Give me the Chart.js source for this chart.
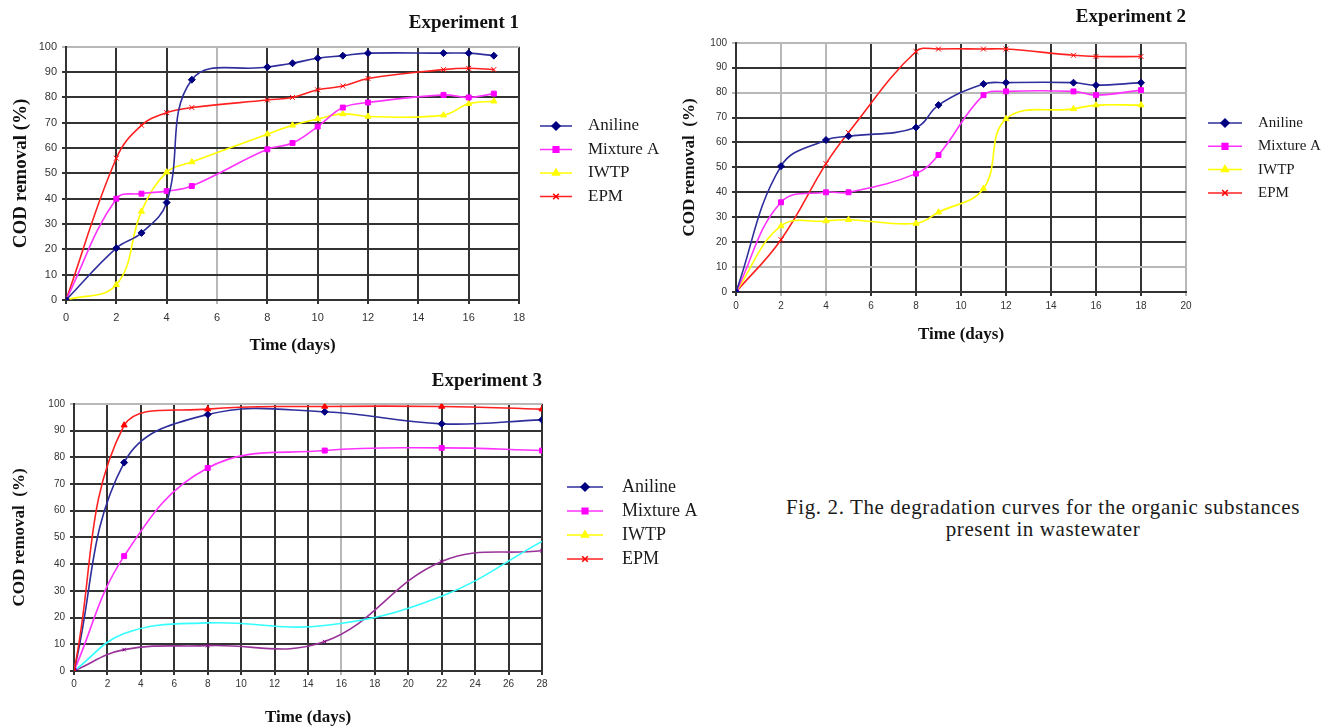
<!DOCTYPE html>
<html>
<head>
<meta charset="utf-8">
<title>Fig. 2</title>
<script src="https://cdn.jsdelivr.net/npm/chart.js@4.4.1/dist/chart.umd.min.js"></script>
<style>
  body { margin: 0; background: #fff; }
  #page { position: relative; width: 1335px; height: 728px; overflow: hidden; }
  canvas { position: absolute; }
  #caption {
    position: absolute; left: 740px; top: 496px; width: 606px;
    text-align: center; font: 21px 'Liberation Serif', serif; letter-spacing: 0.6px;
    line-height: 22px; color: #1a1a1a;
  }
</style>
</head>
<body>
<div id="page">
  <canvas id="c1" width="660" height="365" style="left:0;top:0"></canvas>
  <canvas id="c2" width="675" height="350" style="left:660px;top:0"></canvas>
  <canvas id="c3" width="720" height="363" style="left:0;top:365px"></canvas>
  <div id="caption">Fig. 2. The degradation curves for the organic substances<br>present in wastewater</div>
</div>
<script>
// legend names shared by the three panels
const seriesNames = ['Aniline', 'Mixture A', 'IWTP', 'EPM'];

// Experiment 1
const days1 = [0, 2, 3, 4, 5, 8, 9, 10, 11, 12, 15, 16, 17];
const aniline1 = [0, 20.5, 26.5, 38.5, 87, 92, 93.5, 95.5, 96.5, 97.5, 97.5, 97.5, 96.5];
const mixtureA1 = [0, 40, 42, 43, 45, 59.5, 62, 68.5, 76, 78, 81, 80, 81.5];
const iwtp1 = [0, 6, 35, 50.5, 54.5, 65.5, 69, 71.5, 73.5, 72.5, 73, 77.5, 78.5];
const epm1 = [0, 56, 69, 74, 76, 79, 80, 83, 84.5, 87.5, 91, 91.5, 91];

// Experiment 2
const days2 = [0, 2, 4, 5, 8, 9, 11, 12, 15, 16, 18];
const aniline2 = [0, 50.5, 61, 62.5, 66, 75, 83.5, 84, 84, 83, 84];
const mixtureA2 = [0, 36, 40, 40, 47.5, 55, 79, 80.5, 80.5, 79, 81];
const iwtp2 = [0, 26.5, 28.5, 29, 27.5, 32, 41.5, 69.5, 73.5, 75, 75];
const epm2 = [0, 21, 51.5, 64, 96.5, 97.5, 97.5, 97.5, 95, 94.5, 94.5];

// Experiment 3 (two extra unlabelled curves)
const days3 = [0, 3, 8, 15, 22, 28];
const aniline3 = [0, 78, 96, 97, 92.5, 94];
const mixtureA3 = [0, 43, 76, 82.5, 83.5, 82.5];
const epm3 = [0, 92, 98, 99, 99, 98];
const cyan3 = [0, 14, 18, 17, 28, 48.5];
const purple3 = [0, 8, 9.5, 11, 41, 45];

const yTicks = [0, 10, 20, 30, 40, 50, 60, 70, 80, 90, 100];

// styles
const lineColors = ['#2e2e9c', '#ff33ff', '#ffff00', '#ff2020'];
const markColors = ['#000080', '#ff00ff', '#ffff00', '#ff0000'];
const markers = ['rectRot', 'rect', 'triangle', 'crossRot'];
const SERIF = "'Liberation Serif', 'Times New Roman', serif";
const SANS = "'Liberation Sans', Arial, sans-serif";

function series(days, values, i, extra) {
  return Object.assign({
    label: seriesNames[i],
    data: days.map((d, k) => ({ x: d, y: values[k] })),
    borderColor: lineColors[i],
    backgroundColor: markColors[i],
    pointBackgroundColor: markColors[i],
    pointBorderColor: markColors[i],
    pointStyle: markers[i],
    pointRadius: 3.5,
    pointBorderWidth: 1,
    borderWidth: 1.6,
    tension: 0.4
  }, extra || {});
}

// line + marker legend, Excel style
const lineLegend = {
  id: 'lineLegend',
  afterDraw(chart, args, opts) {
    if (!opts.items) return;
    const ctx = chart.ctx;
    ctx.save();
    opts.items.forEach((it, i) => {
      const y = opts.y + i * opts.dy;
      ctx.strokeStyle = lineColors[i];
      ctx.lineWidth = 1.5;
      ctx.beginPath();
      ctx.moveTo(opts.x, y);
      ctx.lineTo(opts.x + opts.len, y);
      ctx.stroke();
      ctx.fillStyle = markColors[i];
      ctx.strokeStyle = markColors[i];
      Chart.helpers.drawPoint(ctx, { pointStyle: markers[i], radius: 4, borderWidth: 1, rotation: 0 },
        opts.x + opts.len / 2, y);
      ctx.fillStyle = '#1a1a1a';
      ctx.font = opts.font;
      ctx.textBaseline = 'middle';
      ctx.textAlign = 'left';
      ctx.fillText(it, opts.textX, y);
    });
    ctx.restore();
  }
};
Chart.register(lineLegend);

function gridColor(light) {
  return c => (c.tick && light.indexOf(c.tick.value) >= 0) ? '#b8b8b8' : '#333';
}

function makeOptions(cfg) {
  return {
    responsive: false,
    animation: false,
    layout: { padding: { left: 0, top: 0, right: cfg.padRight, bottom: 0 } },
    plugins: {
      legend: { display: false },
      tooltip: { enabled: false },
      title: {
        display: true, text: cfg.title, align: 'end', color: '#111',
        font: { family: SERIF, size: 19, weight: 'bold' },
        padding: { top: cfg.titleTop, bottom: cfg.titleBottom }
      },
      lineLegend: cfg.legend
    },
    scales: {
      x: {
        type: 'linear', min: 0, max: cfg.xMax,
        ticks: { stepSize: 2, autoSkip: false, maxRotation: 0, padding: cfg.xTickPad,
          color: '#333', font: { family: SANS, size: cfg.tickSize } },
        grid: { color: gridColor(cfg.lightX), lineWidth: 2, tickLength: 4 },
        border: { color: '#333', width: 2 },
        title: { display: true, text: 'Time (days)', color: '#111',
          font: { family: SERIF, size: 17, weight: 'bold' }, padding: { top: 0, bottom: cfg.xTitlePad } },
        afterFit: s => { s.height = cfg.xHeight; s.paddingLeft = 0; s.paddingRight = 0; }
      },
      y: {
        min: 0, max: 100,
        afterBuildTicks: s => { s.ticks = yTicks.map(v => ({ value: v })); },
        ticks: { padding: 5, color: '#333', font: { family: SANS, size: cfg.tickSize } },
        grid: { color: gridColor(cfg.lightY), lineWidth: 2, tickLength: 4 },
        border: { color: '#333', width: 2 },
        title: { display: true, text: cfg.yTitle, color: '#111',
          font: { family: SERIF, size: cfg.yTitleSize, weight: 'bold' }, padding: { top: cfg.yTitlePad, bottom: 0 } },
        afterFit: s => { s.width = cfg.yWidth; s.paddingTop = 0; s.paddingBottom = 0; }
      }
    }
  };
}

// eslint-disable-next-line no-unused-vars
const chart1 = new Chart(document.getElementById('c1'), {
  type: 'line',
  data: {
    datasets: [
      series(days1, aniline1, 0),
      series(days1, mixtureA1, 1),
      series(days1, iwtp1, 2),
      series(days1, epm1, 3)
    ]
  },
  options: makeOptions({
    title: 'Experiment 1', padRight: 141, titleTop: 12, titleBottom: 12,
    xMax: 18, xHeight: 65, xTickPad: 7, xTitlePad: 9, tickSize: 11,
    yWidth: 66, yTitle: 'COD removal (%)', yTitleSize: 19, yTitlePad: 10,
    lightX: [6], lightY: [100],
    legend: { items: seriesNames, x: 540, y: 126, dy: 23.5, len: 32, textX: 588, font: '17px ' + SERIF }
  })
});

// eslint-disable-next-line no-unused-vars
const chart2 = new Chart(document.getElementById('c2'), {
  type: 'line',
  data: {
    datasets: [
      series(days2, aniline2, 0),
      series(days2, mixtureA2, 1),
      series(days2, iwtp2, 2),
      series(days2, epm2, 3)
    ]
  },
  options: makeOptions({
    title: 'Experiment 2', padRight: 149, titleTop: 6, titleBottom: 14,
    xMax: 20, xHeight: 58, xTickPad: 4, xTitlePad: 5, tickSize: 10,
    yWidth: 76, yTitle: 'COD removal  (%)', yTitleSize: 17, yTitlePad: 19,
    lightX: [2, 4, 20], lightY: [100, 80, 10],
    legend: { items: seriesNames, x: 548, y: 123, dy: 23.3, len: 34, textX: 598, font: '15px ' + SERIF }
  })
});

// eslint-disable-next-line no-unused-vars
const chart3 = new Chart(document.getElementById('c3'), {
  type: 'line',
  data: {
    datasets: [
      series(days3, epm3, 3, { pointStyle: 'triangle' }),
      series(days3, aniline3, 0),
      series(days3, mixtureA3, 1),
      series(days3, cyan3, 0, { label: '', borderColor: '#33ffff', pointRadius: 0 }),
      series(days3, purple3, 0, { label: '', borderColor: '#993399', pointBackgroundColor: '#800080',
        pointBorderColor: '#800080', pointStyle: 'crossRot', pointRadius: 2.5 })
    ]
  },
  options: makeOptions({
    title: 'Experiment 3', padRight: 178, titleTop: 5, titleBottom: 11,
    xMax: 28, xHeight: 57, xTickPad: 3, xTitlePad: 0, tickSize: 10,
    yWidth: 74, yTitle: 'COD removal  (%)', yTitleSize: 17, yTitlePad: 9,
    lightX: [16], lightY: [100],
    legend: { items: seriesNames, x: 567, y: 122, dy: 24, len: 36, textX: 622, font: '18px ' + SERIF }
  })
});
</script>
</body>
</html>
